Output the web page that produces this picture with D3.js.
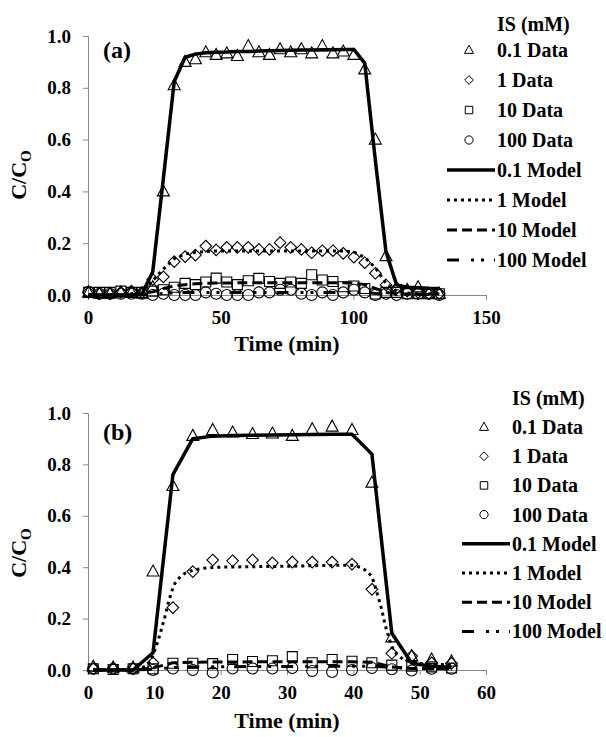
<!DOCTYPE html>
<html>
<head>
<meta charset="utf-8">
<script src="https://cdn.jsdelivr.net/npm/d3@7"></script>
<style>
  body { margin: 0; background: #fff; }
  svg { display: block; }
  svg text { font-family: "Liberation Serif", "Times New Roman", serif !important; font-weight: bold; fill: #000; }
</style>
</head>
<body>
<svg id="chart" width="606" height="737"></svg>
<script>
// ---- data, panel (a) ----
var tA = [0.2, 4.3, 8.3, 12.4, 16.4, 20.4, 24.4, 28.4, 32.5, 36.6, 40.5, 44.4, 48.3, 52.3, 56.3, 60.4, 64.4,
          68.4, 72.4, 76.4, 80.4, 84.3, 88.3, 92.3, 96.2, 100.2, 104.3, 108.3, 112.3, 116.3, 120.3, 124.4, 128.4, 132.4];
var a01 = [0.01, 0.005, 0.005, 0.01, 0.01, 0.005, 0.03, 0.40, 0.81, 0.90, 0.91, 0.937, 0.927, 0.933, 0.923, 0.961, 0.937,
           0.927, 0.949, 0.937, 0.949, 0.933, 0.961, 0.933, 0.94, 0.927, 0.871, 0.60, 0.15, 0.026, 0.02, 0.03, 0.005, 0.005];
var a1 = [0.01, 0.005, 0.005, 0.01, 0.015, 0.01, 0.06, 0.07, 0.129, 0.148, 0.154, 0.189, 0.174, 0.184, 0.184, 0.184, 0.176,
          0.176, 0.202, 0.184, 0.176, 0.163, 0.171, 0.171, 0.161, 0.146, 0.125, 0.084, 0.039, 0.026, 0.015, 0.01, 0.005, 0.005];
var a10 = [0.01, 0.01, 0.01, 0.015, 0.01, 0.01, 0.015, 0.02, 0.03, 0.045, 0.04, 0.05, 0.065, 0.05, 0.04, 0.055, 0.064,
           0.052, 0.045, 0.05, 0.045, 0.078, 0.058, 0.052, 0.032, 0.035, 0.025, 0.004, 0.01, 0.01, 0.005, 0.005, 0.005, 0.005];
var a100 = [0.012, 0.005, 0.005, 0.005, 0.005, 0.005, 0, 0.005, 0, 0, 0, 0.01, 0.005, 0, 0, 0, 0.01,
            0.01, 0.02, 0.02, 0.005, 0, 0.01, 0, 0.01, 0.02, 0.01, 0, 0.005, 0, 0.005, 0.005, 0.005, 0];
var ma01 = [0, 0, 0, 0, 0, 0.005, 0.09, 0.45, 0.824, 0.918, 0.93, 0.935, 0.937, 0.938, 0.94, 0.94, 0.942,
            0.943, 0.944, 0.945, 0.946, 0.946, 0.947, 0.947, 0.948, 0.948, 0.895, 0.52, 0.167, 0.039, 0.03, 0.028, 0.026, 0.025];
var ma1 = [0, 0, 0, 0, 0.005, 0.02, 0.055, 0.1, 0.14, 0.158, 0.165, 0.168, 0.17, 0.17, 0.17, 0.17, 0.17,
           0.17, 0.17, 0.17, 0.17, 0.17, 0.17, 0.17, 0.17, 0.166, 0.145, 0.105, 0.045, 0.015, 0.008, 0.005, 0.005, 0.005];
var ma10 = [0, 0, 0, 0, 0, 0.005, 0.012, 0.025, 0.035, 0.04, 0.043, 0.045, 0.046, 0.046, 0.047, 0.047, 0.047,
            0.047, 0.047, 0.047, 0.047, 0.047, 0.047, 0.047, 0.047, 0.046, 0.04, 0.025, 0.01, 0.005, 0.004, 0.004, 0.004, 0.004];
var ma100 = [0, 0, 0, 0, 0, 0.002, 0.004, 0.006, 0.008, 0.01, 0.01, 0.01, 0.01, 0.01, 0.01, 0.01, 0.01,
             0.01, 0.01, 0.01, 0.01, 0.01, 0.01, 0.01, 0.01, 0.01, 0.009, 0.006, 0.003, 0.002, 0.002, 0.002, 0.002, 0.002];

// ---- data, panel (b) ----
var tB = [0.8, 3.8, 6.8, 9.8, 12.8, 15.8, 18.8, 21.8, 24.8, 27.8, 30.8, 33.8, 36.8, 39.8, 42.8, 45.8, 48.8, 51.8, 54.8];
var b01 = [0.013, 0.01, 0.01, 0.383, 0.716, 0.911, 0.934, 0.924, 0.918, 0.92, 0.911, 0.937, 0.947, 0.934, 0.729, 0.127, 0.054, 0.041, 0.033];
var b1 = [0.005, 0.005, 0.005, 0.028, 0.243, 0.383, 0.428, 0.425, 0.428, 0.417, 0.42, 0.42, 0.42, 0.412, 0.314, 0.065, 0.054, 0.028, 0.026];
var b10 = [0.005, 0.002, 0.005, 0.005, 0.026, 0.026, 0.025, 0.041, 0.033, 0.036, 0.052, 0.028, 0.041, 0.034, 0.028, 0.019, 0.015, 0.012, 0.008];
var b100 = [0.005, 0.005, 0.005, 0, 0.006, 0, -0.01, 0.006, 0.006, 0.006, 0.008, -0.004, -0.008, 0, 0.008, 0.003, -0.002, 0.005, 0.005];
var mb01 = [0, 0, 0, 0.067, 0.76, 0.90, 0.91, 0.912, 0.913, 0.914, 0.915, 0.916, 0.917, 0.917, 0.84, 0.143, 0.026, 0.015, 0.01];
var tB1m = [0.8, 3.8, 6.8, 8.6, 9.4, 10.0, 10.6, 11.1, 11.6, 12.1, 12.6, 13.1, 13.9, 14.6, 15.9, 17.4, 19.4, 22, 25, 28, 31, 34, 37, 40,
            41, 42, 42.8, 43.3, 43.8, 44.3, 44.8, 45.3, 45.8, 46.5, 47.5, 49, 51, 54.8];
var mb1 = [0, 0, 0.003, 0.013, 0.032, 0.071, 0.117, 0.162, 0.208, 0.26, 0.305, 0.337, 0.363, 0.376, 0.389, 0.396, 0.40, 0.401, 0.402, 0.403, 0.404, 0.406, 0.407, 0.408,
           0.40, 0.386, 0.363, 0.324, 0.279, 0.233, 0.175, 0.13, 0.091, 0.062, 0.041, 0.028, 0.023, 0.02];
var mb10 = [0, 0, 0, 0.008, 0.028, 0.03, 0.031, 0.031, 0.032, 0.032, 0.032, 0.032, 0.032, 0.032, 0.03, 0.012, 0.006, 0.005, 0.005];
var mb100 = [0, 0, 0, 0.003, 0.01, 0.012, 0.013, 0.013, 0.014, 0.014, 0.014, 0.015, 0.015, 0.015, 0.015, 0.01, 0.006, 0.005, 0.005];

var legendLabels = ["0.1 Data", "1 Data", "10 Data", "100 Data", "0.1 Model", "1 Model", "10 Model", "100 Model"];
var yTicks = [0, 0.2, 0.4, 0.6, 0.8, 1.0];
var xTicksA = [0, 50, 100, 150];
var xTicksB = [0, 10, 20, 30, 40, 50, 60];

var svg = d3.select("#chart");

// marker shapes
function markerPath(kind, s) {
  if (kind == "tri") return "M0," + (-6.5 * s) + "L" + (6 * s) + "," + (4.5 * s) + "L" + (-6 * s) + "," + (4.5 * s) + "Z";
  if (kind == "dia") return "M0," + (-5.8 * s) + "L" + (5.8 * s) + ",0L0," + (5.8 * s) + "L" + (-5.8 * s) + ",0Z";
  if (kind == "sq") return "M" + (-5 * s) + "," + (-5 * s) + "h" + (10 * s) + "v" + (10 * s) + "h" + (-10 * s) + "Z";
  var r = 5.5 * s;
  return "M" + r + ",0A" + r + "," + r + " 0 1,1 " + (-r) + ",0A" + r + "," + r + " 0 1,1 " + r + ",0Z";
}
var kinds = ["tri", "dia", "sq", "circ"];
var lineStyles = [
  { w: 3.5, dash: null },
  { w: 3, dash: "3,4" },
  { w: 3, dash: "10,5" },
  { w: 3, dash: "12,12,3,7,3,10" }
];

function panel(opt) {
  var x = d3.scaleLinear().domain(opt.xDomain).range([88, 486]);
  var y = d3.scaleLinear().domain([0, 1]).range(opt.yRange);
  var g = svg.append("g");

  var xAxis = g.append("g")
    .attr("transform", "translate(0," + y(0) + ")")
    .call(d3.axisBottom(x).tickValues(opt.xTicks).tickSize(5).tickPadding(11).tickFormat(d3.format("d")));
  var yAxis = g.append("g")
    .attr("transform", "translate(" + x(0) + ",0)")
    .call(d3.axisLeft(y).tickValues(yTicks).tickSize(5).tickPadding(12).tickFormat(d3.format(".1f")));
  [xAxis, yAxis].forEach(function (a) {
    a.attr("font-family", null);
    a.select(".domain").attr("stroke", "#888").attr("stroke-width", 1);
    a.selectAll(".tick line").attr("stroke", "#888");
    a.selectAll("text").style("font-size", "19px").attr("fill", "#000");
  });

  // data markers
  opt.data.forEach(function (vals, i) {
    g.append("g").selectAll("path")
      .data(vals)
      .enter()
      .append("path")
      .attr("d", markerPath(kinds[i], 1))
      .attr("transform", function (d, j) { return "translate(" + x(opt.t[j]) + "," + y(d) + ")"; })
      .attr("fill", "none")
      .attr("stroke", "#000")
      .attr("stroke-width", 1.1);
  });

  // model lines
  opt.models.forEach(function (m, i) {
    var line = d3.line()
      .x(function (d, j) { return x(m.t[j]); })
      .y(function (d) { return y(d); });
    g.append("path")
      .datum(m.v)
      .attr("d", line)
      .attr("fill", "none")
      .attr("stroke", "#000")
      .attr("stroke-width", lineStyles[i].w)
      .attr("stroke-dasharray", lineStyles[i].dash)
      .attr("stroke-linejoin", "round");
  });

  // axis titles and panel label
  g.append("text")
    .attr("x", 287).attr("y", opt.xTitleY)
    .attr("text-anchor", "middle")
    .style("font-size", "22px")
    .text("Time (min)");
  var yt = g.append("text")
    .attr("transform", "translate(26," + opt.yTitleY + ") rotate(-90)")
    .attr("text-anchor", "middle")
    .style("font-size", "22px");
  yt.append("tspan").text("C/C");
  yt.append("tspan").attr("dy", "0.3em").style("font-size", "15px").text("O");

  g.append("text")
    .attr("x", 103).attr("y", opt.labelY)
    .style("font-size", "24px")
    .text(opt.label);

  // legend
  var lg = g.append("g");
  lg.append("text")
    .attr("x", opt.legX).attr("y", opt.isY)
    .style("font-size", "20px")
    .text("IS (mM)");
  legendLabels.forEach(function (lab, i) {
    var cy = opt.legY0 + i * opt.legStep;
    lg.append("text")
      .attr("x", opt.legX).attr("y", cy + 7)
      .style("font-size", "20px")
      .text(lab);
    if (i < 4) {
      lg.append("path")
        .attr("d", markerPath(kinds[i], 0.75))
        .attr("transform", "translate(" + (opt.legX - 28) + "," + cy + ")")
        .attr("fill", "none")
        .attr("stroke", "#000")
        .attr("stroke-width", 1);
    } else {
      var st = lineStyles[i - 4];
      lg.append("line")
        .attr("x1", opt.legX - 50).attr("x2", opt.legX - 2)
        .attr("y1", cy).attr("y2", cy)
        .attr("stroke", "#000")
        .attr("stroke-width", st.w)
        .attr("stroke-dasharray", st.dash);
    }
  });
}

panel({
  xDomain: [0, 150], yRange: [295, 36], xTicks: xTicksA, t: tA,
  data: [a01, a1, a10, a100],
  models: [{ t: tA, v: ma01 }, { t: tA, v: ma1 }, { t: tA, v: ma10 }, { t: tA, v: ma100 }],
  xTitleY: 351, yTitleY: 175, label: "(a)", labelY: 58,
  legX: 497, legY0: 50, legStep: 30, isY: 31
});

panel({
  xDomain: [0, 60], yRange: [670, 413], xTicks: xTicksB, t: tB,
  data: [b01, b1, b10, b100],
  models: [{ t: tB, v: mb01 }, { t: tB1m, v: mb1 }, { t: tB, v: mb10 }, { t: tB, v: mb100 }],
  xTitleY: 728, yTitleY: 553, label: "(b)", labelY: 440,
  legX: 512, legY0: 427, legStep: 29.2, isY: 405
});
</script>
</body>
</html>
